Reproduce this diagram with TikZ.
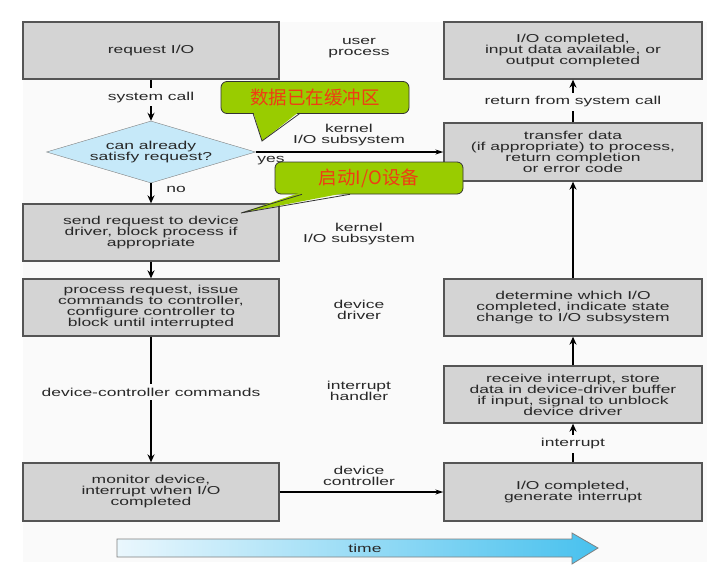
\documentclass[tikz,border=0pt]{standalone}
\usepackage{fontspec}
\setmainfont{Liberation Sans}
\newfontfamily\widefont[FakeStretch=1.52]{Liberation Sans}
\newfontfamily\cjk{Noto Sans CJK SC}
\usetikzlibrary{shapes.geometric,arrows.meta}

\definecolor{boxgray}{RGB}{212,212,212}
\definecolor{edgegray}{RGB}{85,85,85}
\definecolor{txtgray}{RGB}{40,40,40}
\definecolor{diafill}{RGB}{198,233,249}
\definecolor{callgreen}{RGB}{153,204,0}
\definecolor{callred}{RGB}{240,60,20}
\definecolor{pagebg}{RGB}{250,250,250}
\definecolor{timelo}{RGB}{234,247,253}
\definecolor{timehi}{RGB}{72,193,238}

\begin{document}
\begin{tikzpicture}[x=1pt, y=-1pt,
    every node/.style={font={\widefont\fontsize{11.5}{11}\selectfont}, text=txtgray},
    stepbox/.style={draw=edgegray, line width=1.3pt, fill=boxgray,
      minimum width=256pt, minimum height=57pt, inner sep=0pt, align=center},
    decision/.style={diamond, draw=gray, fill=diafill, shape aspect=3.3,
      minimum width=209pt, minimum height=62pt, inner sep=0pt, align=center},
    layer/.style={align=center, inner sep=0pt},
    flow/.style={line width=2pt, -{Stealth[length=8pt, width=7pt]}},
    hflow/.style={line width=1.3pt, -{Stealth[length=8pt, width=5pt]}},
    cut/.style={fill=pagebg, inner xsep=2pt, inner ysep=3.5pt},
    callout/.style={draw=black!80, line width=0.8pt, fill=callgreen, rounded corners=6pt,
      minimum width=188pt, minimum height=32pt, inner sep=0pt,
      font={\cjk\fontsize{18.5}{18.5}\selectfont}, text=callred}]

  \useasboundingbox (0,0) rectangle (725,571);
  \fill[white] (0,0) rectangle (725,571);
  \fill[pagebg] (23,22) rectangle (707,562);

  % left column
  \node[stepbox] (req) at (151,50.5) {request I/O};
  \node[decision] (sat) at (151,152) {can already\\satisfy request?};
  \node[stepbox] (send) at (151,232.5) {send request to device\\driver, block process if\\appropriate};
  \node[stepbox] (proc) at (151,307.5) {process request, issue\\commands to controller,\\configure controller to\\block until interrupted};
  \node[stepbox, minimum height=58pt] (mon) at (151,492) {monitor device,\\interrupt when I/O\\completed};

  % right column
  \node[stepbox, minimum width=258pt] (done) at (573,50.5) {I/O completed,\\input data available, or\\output completed};
  \node[stepbox, minimum width=258pt, minimum height=58pt] (xfer) at (573,152) {transfer data\\(if appropriate) to process,\\return completion\\or error code};
  \node[stepbox, minimum width=258pt] (det) at (573,307.5) {determine which I/O\\completed, indicate state\\change to I/O subsystem};
  \node[stepbox, minimum width=258pt] (recv) at (573,394.5) {receive interrupt, store\\data in device-driver buffer\\if input, signal to unblock\\device driver};
  \node[stepbox, minimum width=258pt, minimum height=58pt] (gen) at (573,492) {I/O completed,\\generate interrupt};

  % layer names
  \node[layer] (lbuser) at (359,48.5) {user\\process};
  \node[layer] (lbkern) at (349,135.5) {kernel\\I/O subsystem};
  \node[layer] (lbkern2) at (359,234.5) {kernel\\I/O subsystem};
  \node[layer] (lbdrv) at (359,309.5) {device\\driver};
  \node[layer] (lbint) at (359,390.5) {interrupt\\handler};
  \node[layer] (lbctl) at (359,475.5) {device\\controller};

  % connectors
  \draw[flow] (req) -- node[cut, pos=0.43] (syscall) {system call} (sat);
  \draw[flow] (sat) -- node[pos=0.33, right, xshift=11pt] (no) {no} (send);
  \draw[hflow] (sat.east) -- node[pos=0, below right, inner sep=1pt, yshift=-3pt] (yes) {yes} (xfer.west);
  \draw[flow] (send) -- (proc);
  \draw[flow] (proc) -- node[cut, pos=0.44] (dccmd) {device-controller commands} (mon);
  \draw[hflow] (mon.east) -- (gen.west);
  \draw[flow] (gen) -- node[cut, pos=0.475] (intr) {interrupt} (recv);
  \draw[flow] (recv) -- (det);
  \draw[flow] (det) -- (xfer);
  \draw[flow] (xfer) -- node[cut, pos=0.48] (ret) {return from system call} (done);

  % time arrow
  \shadedraw[left color=timelo, right color=timehi, draw=gray, line width=0.8pt]
    (117,539) -- (572,539) -- (572,533) -- (598,548) -- (572,564) -- (572,557) -- (117,557) -- cycle;
  \node (time) at (365,548) {time};

  % callouts
  \node[callout] (bufnote) at (315,97.5) {数据已在缓冲区};
  \coordinate (buftip) at (262,141);
  \fill[callgreen] (253,111) -- (buftip) -- (300,111) -- cycle;
  \draw[black!80, line width=0.8pt] (253,113.3) -- (buftip) -- (300,113.3);

  \node[callout] (devnote) at (369,178) {启动I/O设备};
  \coordinate (devtip) at (241,213);
  \fill[callgreen] (302,192) -- (devtip) -- (350,192) -- cycle;
  \draw[black!80, line width=0.8pt] (302,194.3) -- (devtip) -- (350,194.3);
\end{tikzpicture}
\end{document}
